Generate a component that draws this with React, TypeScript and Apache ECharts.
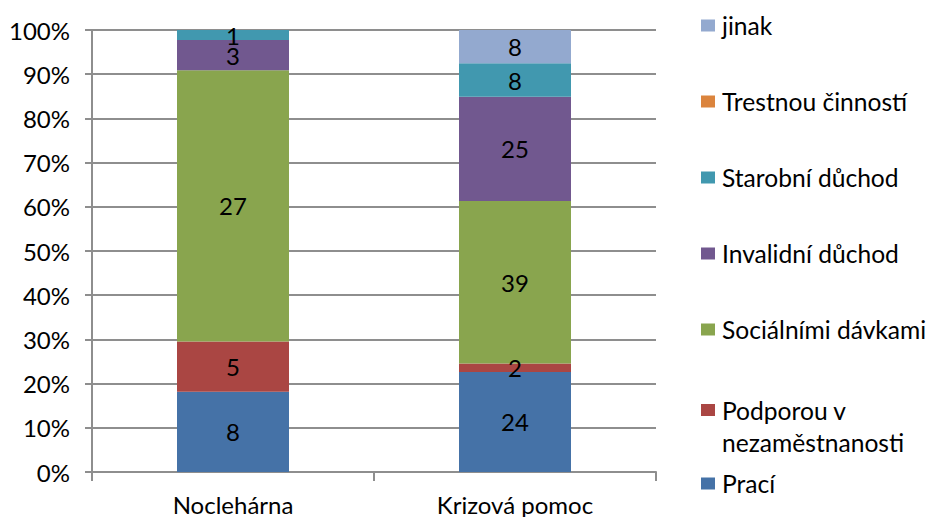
import React, { useEffect, useRef } from "react";
import * as echarts from "echarts";

const categories = ["Noclehárna", "Krizová pomoc"];
const seriesNames = [
  "Prací",
  "Podporou v nezaměstnanosti",
  "Sociálními dávkami",
  "Invalidní důchod",
  "Starobní důchod",
  "Trestnou činností",
  "jinak",
];
const praci = [8, 24];
const podporou = [5, 2];
const socialnimi = [27, 39];
const invalidni = [3, 25];
const starobni = [1, 8];
const trestnou = [0, 0];
const jinak = [0, 8];
const counts = [praci, podporou, socialnimi, invalidni, starobni, trestnou, jinak];
const colors = ["#4572A7", "#AA4643", "#89A54E", "#71588F", "#4198AF", "#DB843D", "#93A9CF"];

const FONT = "Lato";
const FS = 24;
const GRAY = "#8e8e8e";

export default function App() {
  const ref = useRef<HTMLDivElement>(null);
  useEffect(() => {
    if (!ref.current) return;
    const chart = echarts.init(ref.current, null, { renderer: "svg" });
    const totals = categories.map((_, i) => counts.reduce((s, arr) => s + arr[i], 0));

    const series = seriesNames.map((name, si) => ({
      name,
      type: "bar",
      stack: "total",
      barWidth: 112,
      itemStyle: { color: colors[si] },
      label: {
        show: true,
        position: "inside",
        color: "#000",
        fontFamily: FONT,
        fontSize: FS,
        lineHeight: 18,
        formatter: (p: any) => {
          const v = counts[si][p.dataIndex];
          return v === 0 ? "" : String(v);
        },
      },
      data: counts[si].map((v, i) => (v / totals[i]) * 100),
    }));

    // legend layout (top to bottom): jinak ... Prací
    const legendOrder = [6, 5, 4, 3, 2, 1, 0];
    const legendCenters = [26, 102, 178, 254, 330, 410, 484];
    const legends = legendOrder.map((si, k) => {
      const multi = si === 1;
      return {
        data: [seriesNames[si]],
        orient: "vertical",
        left: 701,
        top: multi ? legendCenters[k] - 48 : legendCenters[k] - 13,
        padding: 0,
        itemWidth: 14,
        itemHeight: 12,
        icon: "rect",
        selectedMode: false,
        formatter: multi ? () => "\nPodporou v\nnezaměstnanosti" : undefined,
        textStyle: {
          fontFamily: FONT,
          fontSize: 24.6,
          color: "#000",
          lineHeight: multi ? 32 : 24,
          padding: [0, 0, 0, 2],
        },
      };
    });

    chart.setOption({
      animation: false,
      grid: { left: 92, right: 276, top: 30, bottom: 45, containLabel: false },
      legend: legends,
      xAxis: {
        type: "category",
        data: categories,
        axisLine: { show: true, lineStyle: { color: GRAY, width: 2 } },
        axisTick: { show: true, alignWithLabel: false, length: 9, lineStyle: { color: GRAY, width: 2 } },
        axisLabel: { fontFamily: FONT, fontSize: FS, lineHeight: 22, color: "#000", margin: 21 },
      },
      yAxis: {
        type: "value",
        min: 0,
        max: 100,
        interval: 10,
        axisLine: { show: true, lineStyle: { color: GRAY, width: 2 } },
        axisTick: { show: true, length: 7, lineStyle: { color: GRAY, width: 2 } },
        splitLine: { show: true, lineStyle: { color: GRAY, width: 2 } },
        axisLabel: {
          fontFamily: FONT,
          fontSize: FS,
          color: "#000",
          margin: 22,
          formatter: "{value}%",
        },
      },
      series,
    });
    return () => chart.dispose();
  }, []);
  return (
    <div
      ref={ref}
      style={{ position: "fixed", left: 0, top: 0, width: 932, height: 517, background: "#fff" }}
    />
  );
}
